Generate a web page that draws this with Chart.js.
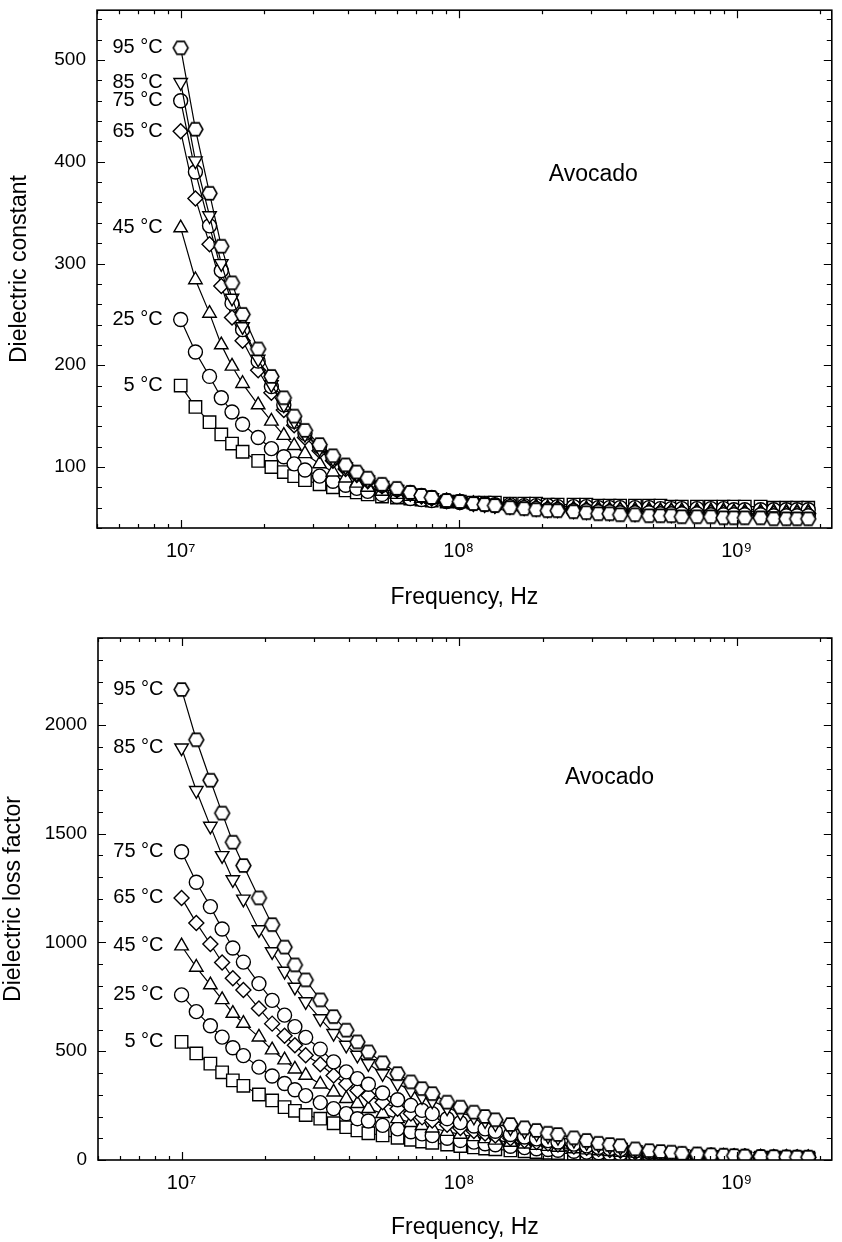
<!DOCTYPE html>
<html>
<head>
<meta charset="utf-8">
<script src="https://cdn.jsdelivr.net/npm/chart.js@4.4.1/dist/chart.umd.min.js"></script>
<style>
  html, body { margin: 0; padding: 0; background: #fff; }
  #wrap { position: relative; width: 842px; height: 1242px; }
  canvas { position: absolute; left: 0; }
</style>
</head>
<body>
<div id="wrap">
  <canvas id="top" width="842" height="620" style="top:0"></canvas>
  <canvas id="bottom" width="842" height="622" style="top:620px"></canvas>
</div>
<script>
// frequencies of the measured points, MHz
const freqMHz = [10, 11.3, 12.7, 14.0, 15.3, 16.7, 19.0, 21.2, 23.5, 25.6,
  28.0, 31.6, 35.3, 39.2, 43.0, 47.1, 53, 60, 67, 73.5,
  80, 90.5, 101, 113, 124, 135, 153, 172, 190, 209,
  227, 259, 288, 318, 349, 381, 431, 484, 532, 582,
  635, 720, 808, 897, 978, 1070, 1220, 1360, 1510, 1650, 1810];

const seriesLabels = ['95 °C', '85 °C', '75 °C', '65 °C', '45 °C', '25 °C', '5 °C'];

// dielectric constant
const constant95 = [512, 432, 369, 317, 281, 250, 216, 189, 168, 150, 136, 122, 111, 102, 95, 89, 83, 79, 75, 72, 70, 67, 66, 64, 63, 62, 60, 59, 58, 57, 57, 56, 55, 54, 54, 53, 53, 52, 52, 52, 51, 51, 51, 50, 50, 50, 50, 49, 49, 49, 49];
const constant85 = [478, 401, 347, 300, 266, 238, 206, 181, 161, 145, 132, 118, 108, 100, 93, 87, 82, 78, 74, 72, 70, 67, 66, 64, 63, 62, 61, 60, 59, 58, 58, 57, 56, 56, 55, 55, 54, 54, 54, 53, 53, 53, 53, 52, 52, 52, 52, 52, 51, 51, 51];
const constant75 = [460, 390, 337, 293, 261, 235, 204, 179, 161, 145, 133, 120, 109, 101, 94, 88, 82, 78, 75, 72, 70, 67, 66, 64, 63, 62, 61, 60, 59, 58, 58, 57, 57, 56, 56, 55, 55, 55, 54, 54, 54, 54, 53, 53, 53, 53, 53, 52, 52, 52, 52];
const constant65 = [430, 364, 319, 278, 247, 224, 195, 173, 156, 141, 129, 116, 106, 98, 92, 86, 81, 77, 74, 71, 69, 67, 66, 64, 63, 62, 61, 60, 60, 59, 59, 58, 58, 57, 57, 57, 56, 56, 56, 56, 55, 55, 55, 55, 55, 54, 54, 54, 54, 54, 54];
const constant45 = [335, 284, 251, 220, 199, 182, 161, 145, 131, 121, 113, 103, 95, 89, 84, 80, 76, 73, 71, 69, 68, 66, 65, 64, 63, 62, 62, 61, 61, 60, 60, 59, 59, 59, 58, 58, 58, 58, 57, 57, 57, 57, 57, 57, 56, 56, 56, 56, 56, 56, 56];
const constant25 = [245, 213, 189, 168, 154, 142, 129, 118, 110, 103, 97, 91, 86, 82, 79, 76, 73, 71, 69, 68, 67, 66, 65, 64, 64, 63, 63, 62, 62, 62, 61, 61, 61, 60, 60, 60, 60, 60, 59, 59, 59, 59, 59, 59, 58, 58, 58, 58, 58, 58, 58];
const constant5 = [180, 159, 144, 132, 123, 115, 106, 100, 95, 91, 87, 83, 80, 77, 75, 73, 71, 70, 69, 68, 67, 66, 66, 65, 65, 65, 64, 64, 64, 63, 63, 63, 63, 62, 62, 62, 62, 62, 62, 61, 61, 61, 61, 61, 61, 61, 61, 60, 60, 60, 60];

// dielectric loss factor
const loss95 = [2163, 1932, 1746, 1595, 1461, 1354, 1205, 1082, 979, 897, 828, 736, 659, 597, 543, 497, 447, 397, 359, 328, 305, 266, 243, 220, 200, 185, 163, 148, 136, 123, 117, 102, 90, 77, 71, 66, 51, 43, 39, 36, 31, 28, 24, 22, 20, 18, 16, 15, 14, 13, 13];
const loss85 = [1895, 1699, 1535, 1400, 1289, 1200, 1059, 958, 868, 795, 728, 650, 582, 528, 482, 443, 397, 351, 320, 292, 272, 240, 218, 198, 181, 167, 148, 133, 122, 111, 104, 91, 80, 70, 63, 58, 47, 40, 36, 33, 29, 26, 23, 21, 19, 17, 16, 15, 14, 13, 13];
const loss75 = [1417, 1277, 1165, 1062, 975, 910, 811, 734, 666, 613, 564, 510, 451, 405, 374, 348, 308, 277, 251, 228, 213, 190, 172, 156, 143, 132, 117, 106, 97, 89, 83, 73, 65, 58, 53, 49, 42, 36, 33, 30, 27, 24, 22, 20, 18, 17, 15, 14, 13, 13, 12];
const loss65 = [1205, 1090, 993, 908, 836, 782, 697, 627, 571, 528, 482, 440, 389, 351, 320, 297, 266, 236, 214, 196, 182, 162, 147, 133, 122, 113, 100, 90, 83, 76, 71, 62, 56, 50, 46, 42, 36, 32, 29, 27, 24, 22, 20, 18, 17, 16, 14, 13, 13, 12, 12];
const loss45 = [984, 886, 805, 737, 674, 628, 565, 506, 460, 418, 389, 349, 312, 282, 259, 236, 213, 190, 172, 158, 147, 131, 118, 107, 98, 91, 81, 73, 67, 62, 58, 51, 46, 42, 38, 35, 31, 28, 25, 23, 21, 19, 18, 16, 15, 14, 13, 12, 12, 11, 11];
const loss25 = [759, 682, 617, 565, 516, 480, 427, 386, 352, 323, 296, 264, 236, 213, 190, 179, 159, 143, 130, 120, 112, 100, 90, 82, 75, 70, 63, 57, 52, 48, 45, 40, 36, 33, 30, 28, 25, 22, 20, 19, 17, 16, 15, 14, 13, 12, 12, 11, 11, 11, 11];
const loss5 = [543, 490, 443, 403, 366, 341, 301, 274, 243, 226, 207, 190, 169, 151, 136, 123, 113, 102, 93, 85, 79, 71, 64, 58, 53, 49, 44, 40, 37, 34, 32, 29, 26, 24, 22, 21, 19, 17, 16, 15, 14, 13, 13, 12, 12, 12, 11, 11, 11, 11, 11];

// axes
const xMajorTicks = [1e7, 1e8, 1e9];
const xMajorLabels = ['10⁷', '10⁸', '10⁹'];
const FONT = '"Liberation Sans", Arial, Helvetica, sans-serif';

Chart.defaults.font.family = FONT;
Chart.defaults.color = '#000';

// open hexagon marker
function hexagon(r) {
  const c = document.createElement('canvas');
  const s = Math.ceil(r * 2 + 4);
  c.width = s; c.height = s;
  const g = c.getContext('2d');
  g.beginPath();
  for (let k = 0; k < 6; k++) {
    const a = k * Math.PI / 3;
    const px = s / 2 + r * Math.cos(a), py = s / 2 + r * Math.sin(a);
    k ? g.lineTo(px, py) : g.moveTo(px, py);
  }
  g.closePath();
  g.fillStyle = '#fff'; g.fill();
  g.lineWidth = 1.6; g.strokeStyle = '#000'; g.stroke();
  return c;
}

const markers = [
  { pointStyle: hexagon(7.4), pointRadius: 7.5 },
  { pointStyle: 'triangle', rotation: 180, pointRadius: 7.8 },
  { pointStyle: 'circle', pointRadius: 7 },
  { pointStyle: 'rectRot', pointRadius: 7.5 },
  { pointStyle: 'triangle', pointRadius: 7.8 },
  { pointStyle: 'circle', pointRadius: 7 },
  { pointStyle: 'rect', pointRadius: 8.8 },
];

function makeSets(list) {
  return list.map((vals, i) => ({
    label: seriesLabels[i],
    data: vals.map((v, j) => ({ x: freqMHz[j] * 1e6, y: v })),
    borderColor: '#000',
    borderWidth: 1.2,
    pointBackgroundColor: '#fff',
    pointBorderColor: '#000',
    pointBorderWidth: 1.4,
    tension: 0,
    ...markers[i],
    pointRotation: markers[i].rotation || 0,
  }));
}

function xTicks(scale) {
  const out = [];
  for (let n = 6; n <= 9; n++) {
    for (let k = 1; k <= 9; k++) {
      const v = k * 10 ** n;
      if (v >= scale.min && v <= scale.max) out.push({ value: v });
    }
  }
  scale.ticks = out;
}

// frame with inward ticks on all four sides
const frameTicks = {
  id: 'frameTicks',
  afterDraw(chart, args, opts) {
    const { ctx, chartArea: a, scales: { x, y } } = chart;
    ctx.save();
    ctx.strokeStyle = '#000';
    ctx.lineWidth = 1.2;
    ctx.beginPath();
    x.ticks.forEach(t => {
      const px = Math.round(x.getPixelForValue(t.value)) + 0.5;
      const len = xMajorTicks.includes(t.value) ? 8 : 4;
      ctx.moveTo(px, a.bottom); ctx.lineTo(px, a.bottom - len);
      ctx.moveTo(px, a.top); ctx.lineTo(px, a.top + len);
    });
    y.ticks.forEach(t => {
      const py = Math.round(y.getPixelForValue(t.value)) + 0.5;
      const len = t.value % opts.yMajor === 0 ? 8 : 5;
      ctx.moveTo(a.left, py); ctx.lineTo(a.left + len, py);
      ctx.moveTo(a.right, py); ctx.lineTo(a.right - len, py);
    });
    ctx.stroke();
    ctx.lineWidth = 1.6;
    ctx.strokeRect(a.left, a.top, a.right - a.left, a.bottom - a.top);
    ctx.restore();
  }
};

// temperature labels next to the first point, and the sample name
const notes = {
  id: 'notes',
  afterDatasetsDraw(chart, args, opts) {
    const { ctx, scales: { x, y } } = chart;
    ctx.save();
    ctx.fillStyle = '#000';
    ctx.font = '20px ' + FONT;
    ctx.textAlign = 'right';
    ctx.textBaseline = 'middle';
    chart.data.datasets.forEach((ds, i) => {
      const p = chart.getDatasetMeta(i).data[0];
      ctx.fillText(ds.label, p.x - 18, p.y);
    });
    ctx.font = '23px ' + FONT;
    ctx.textAlign = 'center';
    ctx.fillText(opts.text, x.getPixelForValue(opts.atX), y.getPixelForValue(opts.atY));
    ctx.restore();
  }
};

function makeChart(id, cfg) {
  return new Chart(document.getElementById(id), {
    type: 'line',
    data: { datasets: makeSets(cfg.sets) },
    options: {
      responsive: false,
      animation: false,
      layout: { padding: { left: 0, right: 2, top: cfg.padTop, bottom: 0 } },
      plugins: {
        legend: { display: false },
        tooltip: { enabled: false },
        frameTicks: { yMajor: cfg.yMajor },
        notes: { text: 'Avocado', atX: cfg.tagX, atY: cfg.tagY },
      },
      scales: {
        x: {
          type: 'logarithmic',
          min: 5e6,
          max: 2.2e9,
          grid: { display: false, drawTicks: false },
          border: { display: false },
          afterBuildTicks: xTicks,
          afterFit: s => { s.height = cfg.xHeight; s.paddingLeft = 0; s.paddingRight = 0; },
          ticks: {
            autoSkip: false, maxRotation: 0, minRotation: 0, padding: 11,
            font: { size: 20 },
            callback: v => {
              const i = xMajorTicks.indexOf(v);
              return i >= 0 ? xMajorLabels[i] : '';
            }
          },
          title: { display: true, text: 'Frequency, Hz', font: { size: 23 }, padding: { top: 0, bottom: cfg.xTitlePad } }
        },
        y: {
          min: cfg.yMin,
          max: cfg.yMax,
          grid: { display: false, drawTicks: false },
          border: { display: false },
          afterBuildTicks: s => {
            const out = [];
            for (let v = Math.ceil(cfg.yMin / cfg.yMinor) * cfg.yMinor; v <= cfg.yMax; v += cfg.yMinor) out.push({ value: v });
            s.ticks = out;
          },
          afterFit: s => { s.width = cfg.yWidth; s.paddingTop = 0; s.paddingBottom = 0; },
          ticks: {
            autoSkip: false,
            padding: 11,
            font: { size: 19 },
            callback: v => (v % cfg.yMajor === 0 ? String(v) : '')
          },
          title: { display: true, text: cfg.yTitle, font: { size: 23 }, padding: { top: cfg.yTitlePad, bottom: 0 } }
        }
      }
    },
    plugins: [frameTicks, notes]
  });
}

makeChart('top', {
  sets: [constant95, constant85, constant75, constant65, constant45, constant25, constant5],
  padTop: 6, xHeight: 92, xTitlePad: 9, yWidth: 97,
  yMin: 40, yMax: 549, yMinor: 20, yMajor: 100,
  yTitle: 'Dielectric constant', yTitlePad: 6,
  tagX: 3.05e8, tagY: 387
});

makeChart('bottom', {
  sets: [loss95, loss85, loss75, loss65, loss45, loss25, loss5],
  padTop: 18, xHeight: 82, xTitlePad: 1, yWidth: 98,
  yMin: 0, yMax: 2400, yMinor: 100, yMajor: 500,
  yTitle: 'Dielectric loss factor', yTitlePad: 0,
  tagX: 3.48e8, tagY: 1760
});
</script>
</body>
</html>
